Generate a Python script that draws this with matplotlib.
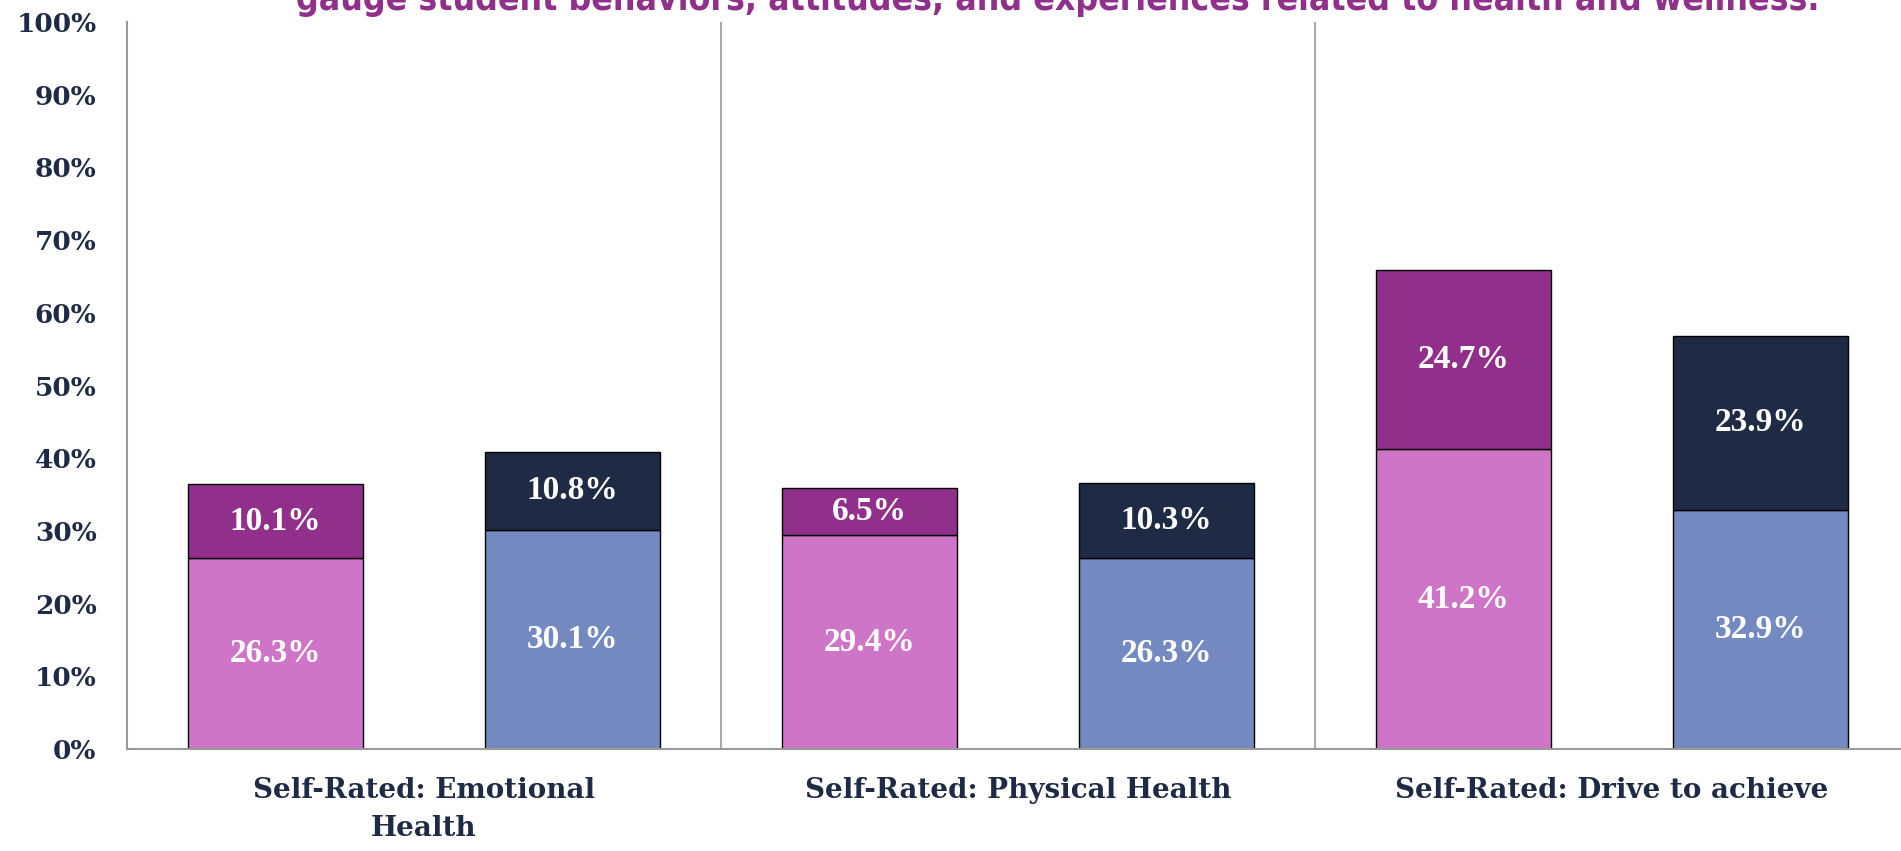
import matplotlib.pyplot as plt
import numpy as np
from matplotlib import font_manager

categories = ["Self-Rated: Emotional\nHealth", "Self-Rated: Physical Health", "Self-Rated: Drive to achieve"]
# left bar of each group (pink / purple) and right bar (blue / navy)
left_bottom = [26.3, 29.4, 41.2]
left_top = [10.1, 6.5, 24.7]
right_bottom = [30.1, 26.3, 32.9]
right_top = [10.8, 10.3, 23.9]
yticks = [0, 10, 20, 30, 40, 50, 60, 70, 80, 90, 100]

title = "gauge student behaviors, attitudes, and experiences related to health and wellness."

pink = "#CF75C8"
purple = "#91308A"
blue = "#7389C0"
navy = "#1F2A44"
txtcol = "#1F2A44"

fig = plt.figure(figsize=(19.01, 8.51), dpi=100)
ax = fig.add_axes([127 / 1901, 1 - 749 / 851, (1909 - 127) / 1901, (749 - 22) / 851])

x = np.arange(len(categories))
w = 0.293
kw = dict(width=w, edgecolor="black", linewidth=1.0)
b1 = ax.bar(x - 0.25, left_bottom, color=pink, **kw)
b2 = ax.bar(x - 0.25, left_top, bottom=left_bottom, color=purple, **kw)
b3 = ax.bar(x + 0.25, right_bottom, color=blue, **kw)
b4 = ax.bar(x + 0.25, right_top, bottom=right_bottom, color=navy, **kw)

lab = dict(color="white", fontsize=24, fontweight="bold", family="Liberation Serif")
for bars, vals in [(b1, left_bottom), (b2, left_top), (b3, right_bottom), (b4, right_top)]:
    ax.bar_label(bars, labels=[f"{v:.1f}%" for v in vals], label_type="center", **lab)

ax.set_xlim(-0.5, 2.5)
ax.set_ylim(0, 100)
ax.set_yticks(yticks)
ax.set_yticklabels([f"{t}%" for t in yticks], fontsize=19, fontweight="bold",
                   family="DejaVu Serif", color=txtcol)
ax.set_xticks(x)
ax.set_xticklabels(categories, fontsize=20, fontweight="bold",
                   family="DejaVu Serif", color=txtcol, linespacing=1.55)
ax.tick_params(axis="both", length=0)
ax.tick_params(axis="y", pad=22)
ax.tick_params(axis="x", pad=20)

for s in ["top", "right"]:
    ax.spines[s].set_visible(False)
for s in ["left", "bottom"]:
    ax.spines[s].set_color("#9A9A9A")
    ax.spines[s].set_linewidth(1.5)

# group separators
for sep in [0.5, 1.5]:
    ax.axvline(sep, color="#9A9A9A", linewidth=1.2, zorder=0)

# title is cut by the top edge in the original slide
names = {f.name for f in font_manager.fontManager.ttflist}
tfam = "Liberation Sans Narrow" if "Liberation Sans Narrow" in names else "DejaVu Sans"
t = fig.text(1058 / 1901, 1 - 10 / 851, title, ha="center", va="baseline",
             fontsize=29, fontweight="bold", color=purple, family=tfam,
             fontstretch="condensed")
fig.canvas.draw()
bb = t.get_window_extent()
if bb.width > 1522:
    t.set_fontsize(29 * 1522 / bb.width)

fig.savefig("out.png", dpi=100)
